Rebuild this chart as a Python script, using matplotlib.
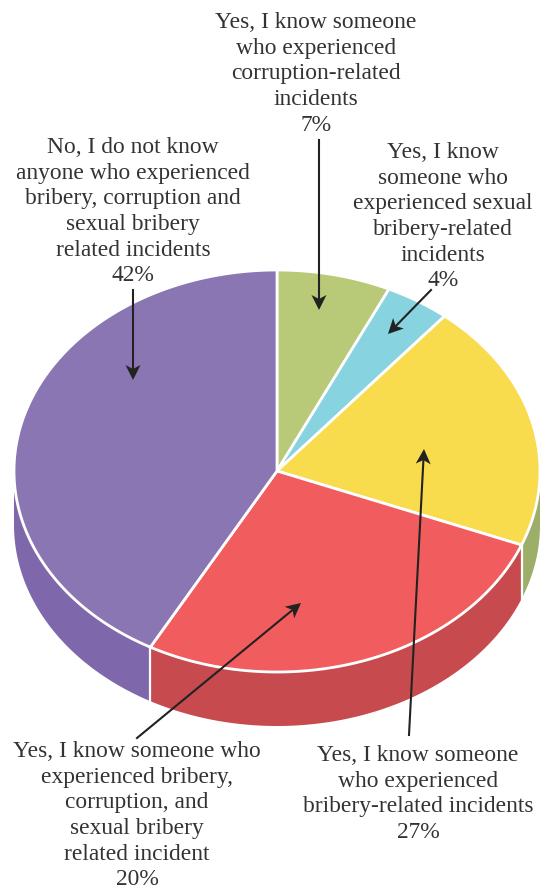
import numpy as np
import matplotlib.pyplot as plt

shares = [7, 4, 20, 27, 42]
top_colors = ["#b8c978", "#87d3df", "#f9dc4e", "#f15c5e", "#8b76b4"]
wall_colors = ["#a9b96c", "#76bcc8", "#9cae68", "#c74b4e", "#7f67ab"]

labels = [
    "Yes, I know someone\nwho experienced\ncorruption-related\nincidents\n7%",
    "Yes, I know\nsomeone who\nexperienced sexual\nbribery-related\nincidents\n4%",
    "Yes, I know someone\nwho experienced\nbribery-related incidents\n27%",
    "Yes, I know someone who\nexperienced bribery,\ncorruption, and\nsexual bribery\nrelated incident\n20%",
    "No, I do not know\nanyone who experienced\nbribery, corruption and\nsexual bribery\nrelated incidents\n42%",
]
label_x = [316, 443, 418, 137, 133]
label_y = [12, 142, 745, 741, 137]

# arrow start and tip for each label
arrow_from = [(319, 140), (431, 290), (409, 735), (137, 738), (133, 290)]
arrow_to = [(319, 310), (388, 334), (424, 449), (301, 603), (133, 380)]

cx, cy, rx, ry, depth = 277, 471, 263, 201, 54


def rim(a, b):
    t = np.radians(np.linspace(a, b, max(int(abs(b - a)) * 2, 2)))
    return cx + rx * np.sin(t), cy - ry * np.cos(t)


plt.rcParams["font.family"] = ["Liberation Serif", "DejaVu Serif"]
fig = plt.figure(figsize=(5.52, 8.89), dpi=100)
ax = fig.add_axes([0, 0, 1, 1])
ax.set_xlim(0, 552)
ax.set_ylim(889, 0)
ax.axis("off")

ends = np.cumsum(shares) / sum(shares) * 360
starts = np.concatenate([[0], ends[:-1]])

# side walls, only the front half of the rim shows
for a, b, c in zip(starts, ends, wall_colors):
    lo, hi = max(a, 90), min(b, 270)
    if lo >= hi:
        continue
    x, y = rim(lo, hi)
    ax.fill(np.r_[x, x[::-1]], np.r_[y, y[::-1] + depth], color=c, lw=0, zorder=1)
    if lo > 90:
        ax.plot([x[0], x[0]], [y[0], y[0] + depth], color="white", lw=1.6, zorder=2)

# top face
for a, b, c in zip(starts, ends, top_colors):
    x, y = rim(a, b)
    ax.fill(np.r_[cx, x], np.r_[cy, y], facecolor=c, edgecolor="white", lw=2,
            joinstyle="round", zorder=3)

# notched arrow head, tip at the origin, pointing along +x
head = np.array([(0, 0), (-15, 7.5), (-11, 0), (-15, -7.5)])

for s, x, y, p0, p1 in zip(labels, label_x, label_y, arrow_from, arrow_to):
    ax.text(x, y, s, ha="center", va="top", fontsize=16.9, color="#333333",
            linespacing=1.29, zorder=6)
    ang = np.arctan2(p1[1] - p0[1], p1[0] - p0[0])
    hx = p1[0] + head[:, 0] * np.cos(ang) - head[:, 1] * np.sin(ang)
    hy = p1[1] + head[:, 0] * np.sin(ang) + head[:, 1] * np.cos(ang)
    ax.plot([p0[0], p1[0] - 11 * np.cos(ang)], [p0[1], p1[1] - 11 * np.sin(ang)],
            color="#222222", lw=1.5, zorder=5)
    ax.fill(hx, hy, color="#222222", lw=0, zorder=5)

fig.savefig("out.png", dpi=100)
